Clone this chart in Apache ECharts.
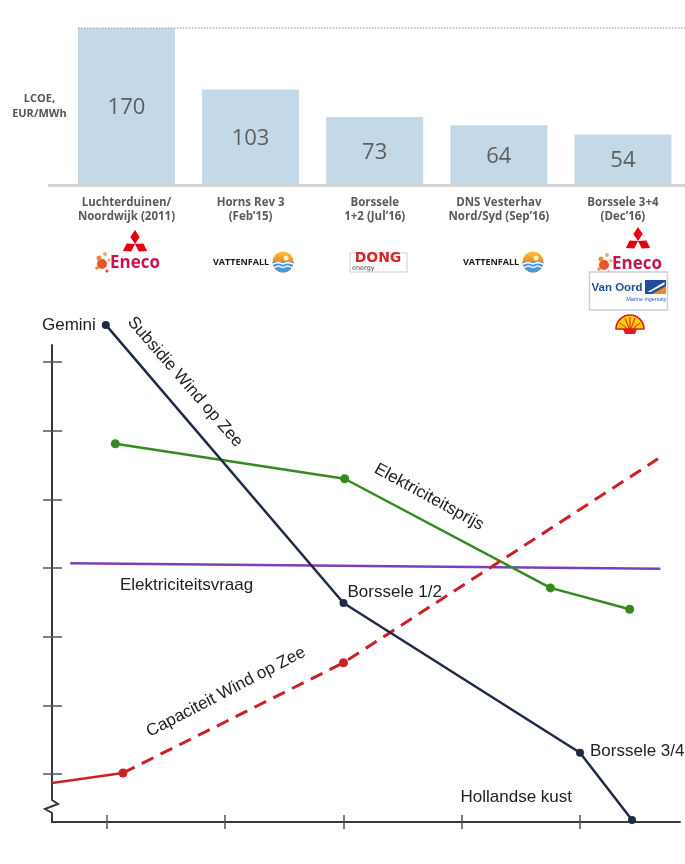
<!DOCTYPE html>
<html><head><meta charset="utf-8">
<script src="https://cdn.jsdelivr.net/npm/echarts@6/dist/echarts.min.js"></script>
<style>html,body{margin:0;padding:0;background:#fff}#c{width:685px;height:864px}</style>
</head><body><div id="c"></div>
<script>
// ---------- Top chart data ----------
const categories = ['Luchterduinen/\nNoordwijk (2011)', 'Horns Rev 3\n(Feb\u201915)', 'Borssele\n1+2 (Jul\u201916)', 'DNS Vesterhav\nNord/Syd (Sep\u201916)', 'Borssele 3+4\n(Dec\u201916)'];
const lcoe = [170, 103, 73, 64, 54];

// ---------- Bottom chart data (axis units: x tick = 1..5, y tick = 1..7) ----------
const xTicks = [1, 2, 3, 4, 5];
const yTicks = [1, 2, 3, 4, 5, 6, 7];
const subsidieX = [0.99, 3.0, 5.0, 5.44];
const subsidieY = [7.54, 3.49, 1.31, 0.33];
const subsidieNames = ['Gemini', 'Borssele 1/2', 'Borssele 3/4', 'Hollandse kust'];
const prijsX = [1.07, 3.01, 4.75, 5.42];
const prijsY = [5.81, 5.30, 3.71, 3.40];
const vraagX = [0.69, 5.68];
const vraagY = [4.07, 3.99];
const capSolidX = [0.535, 1.135];
const capSolidY = [0.87, 1.015];
const capDashX = [1.135, 3.0, 5.66];
const capDashY = [1.015, 2.62, 5.59];

const NAVY = '#1f2a44', GREEN = '#348a1f', PURPLE = '#7b3fb8', RED = '#cc2026';
const FONT = '17px "Liberation Sans"';
const LBL = {fontFamily: 'Liberation Sans', fontSize: 17, color: '#222'};

const subsidieLabelCfg = [
  {position: 'left', distance: 6, offset: [0, 0]},
  {position: 'right', distance: 0, offset: [0, -11]},
  {position: 'right', distance: 6, offset: [0, -1]},
  {position: 'left', distance: 56, offset: [0, -23]}
];

const subsidieData = subsidieX.map((x, i) => ({
  value: [x, subsidieY[i]],
  label: Object.assign({show: true, formatter: subsidieNames[i]}, LBL, subsidieLabelCfg[i])
}));
const pair = (xs, ys) => xs.map((x, i) => [x, ys[i]]);
const capDashData = pair(capDashX, capDashY).map((v, i, arr) => i === arr.length - 1 ? {value: v, symbol: 'none'} : v);

// ---------- Logos (decoration) ----------
function mitsu(cx, cy, L) {
  const a = L / 1.5;
  const c = Math.cos(Math.PI / 6), s = Math.sin(Math.PI / 6);
  const dirs = [[0, -1], [-c, s], [c, s]];
  return dirs.map(d => {
    const n = [-d[1], d[0]];
    return {type: 'polygon', shape: {points: [
      [cx, cy],
      [cx + d[0] * L / 2 + n[0] * a / 2, cy + d[1] * L / 2 + n[1] * a / 2],
      [cx + d[0] * L, cy + d[1] * L],
      [cx + d[0] * L / 2 - n[0] * a / 2, cy + d[1] * L / 2 - n[1] * a / 2]
    ]}, style: {fill: '#e60012'}};
  });
}
function eneco(cx, cy) {
  const b = [[-33, 1, 5, '#e8532b'], [-30, -9, 2, '#f6a96a'], [-36, -5, 2.5, '#f08a2c'], [-26, -3, 1.8, '#f4b27a'], [-38, 5, 1.8, '#f28a3a'], [-28, 8, 1.6, '#e8443a']];
  const els = b.map(p => ({type: 'circle', shape: {cx: cx + p[0], cy: cy + p[1], r: p[2]}, style: {fill: p[3]}}));
  els.push({type: 'text', x: cx, y: cy, style: {text: 'Eneco', fontFamily: 'Open Sans', fontWeight: 'bold', fontSize: 17, fill: '#c4164c', align: 'center', verticalAlign: 'middle'}});
  return els;
}
function vattenfall(cx, cy) {
  const tx = cx - 12, ox = cx + 30;
  return [
    {type: 'text', x: tx, y: cy, style: {text: 'VATTENFALL', fontFamily: 'Open Sans', fontWeight: 'bold', fontSize: 9, fill: '#1a1a1a', align: 'center', verticalAlign: 'middle'}},
    {type: 'circle', shape: {cx: ox, cy: cy, r: 10.5}, style: {fill: new echarts.graphic.LinearGradient(0, 0, 0, 1, [{offset: 0, color: '#f8c43c'}, {offset: 0.5, color: '#f08c1e'}, {offset: 1, color: '#f08c1e'}])}},
    {type: 'sector', shape: {cx: ox, cy: cy, r: 10.5, r0: 0, startAngle: 0, endAngle: Math.PI}, style: {fill: '#4a98d8'}},
    {type: 'polyline', shape: {points: [[ox - 10, cy + 2], [ox - 5, cy + 0.5], [ox, cy + 2], [ox + 5, cy + 0.5], [ox + 10, cy + 2]]}, style: {stroke: '#fff', lineWidth: 1.4, fill: null}},
    {type: 'polyline', shape: {points: [[ox - 9, cy + 5.5], [ox - 4.5, cy + 4], [ox, cy + 5.5], [ox + 4.5, cy + 4], [ox + 9, cy + 5.5]]}, style: {stroke: '#fff', lineWidth: 1.2, fill: null}},
    {type: 'circle', shape: {cx: ox + 3, cy: cy - 4, r: 2.5}, style: {fill: '#fff3c8'}}
  ];
}
function dong(cx, cy) {
  return [
    {type: 'rect', shape: {x: cx - 28, y: cy - 9.5, width: 57, height: 19}, style: {fill: '#fff', stroke: '#cfcfcf', lineWidth: 1}},
    {type: 'text', x: cx, y: cy - 4, style: {text: 'DONG', fontFamily: 'DejaVu Sans', fontWeight: 'bold', fontSize: 14, fill: '#d8232a', align: 'center', verticalAlign: 'middle'}},
    {type: 'text', x: cx - 26, y: cy + 5.5, style: {text: 'energy', fontFamily: 'DejaVu Sans', fontSize: 6.5, fill: '#444', align: 'left', verticalAlign: 'middle'}}
  ];
}
function vanOord(x0, y0) {
  return [
    {type: 'rect', shape: {x: x0, y: y0, width: 78, height: 38}, style: {fill: '#fff', stroke: '#cfcfcf', lineWidth: 1.5}},
    {type: 'text', x: x0 + 2, y: y0 + 16, style: {text: 'Van Oord', fontFamily: 'Liberation Sans', fontWeight: 'bold', fontSize: 11.5, fill: '#1f4e9a', align: 'left', verticalAlign: 'middle'}},
    {type: 'rect', shape: {x: x0 + 55.5, y: y0 + 8, width: 21, height: 14}, style: {fill: '#1f4e9a'}},
    {type: 'polygon', shape: {points: [[x0 + 58, y0 + 20], [x0 + 75, y0 + 10], [x0 + 75, y0 + 12.5], [x0 + 61, y0 + 20]]}, style: {fill: '#fff'}},
    {type: 'polygon', shape: {points: [[x0 + 63, y0 + 22], [x0 + 76.5, y0 + 14], [x0 + 76.5, y0 + 22]]}, style: {fill: '#f08a1e'}},
    {type: 'text', x: x0 + 77, y: y0 + 27, style: {text: 'Marine ingenuity', fontFamily: 'Liberation Sans', fontSize: 5.5, fill: '#2a5aa8', align: 'right', verticalAlign: 'middle'}}
  ];
}
function shell(cx, cy) {
  const els = [
    {type: 'sector', shape: {cx: cx, cy: cy + 8, r: 14, r0: 0, startAngle: Math.PI, endAngle: Math.PI * 2}, style: {fill: '#fbce07', stroke: '#dd1d21', lineWidth: 1.6}},
    {type: 'polygon', shape: {points: [[cx - 7, cy + 8], [cx + 7, cy + 8], [cx + 5, cy + 13], [cx - 5, cy + 13]]}, style: {fill: '#dd1d21'}}
  ];
  [-2.6, -2.0, -1.57, -1.14, -0.54].forEach(a => {
    els.push({type: 'line', shape: {x1: cx, y1: cy + 10, x2: cx + Math.cos(a) * 12, y2: cy + 8 + Math.sin(a) * 12}, style: {stroke: '#dd1d21', lineWidth: 1}});
  });
  return els;
}

const graphics = [].concat(
  [{type: 'line', z: 0, shape: {x1: 48, y1: 185.5, x2: 685, y2: 185.5}, style: {stroke: '#d2d2d2', lineWidth: 3}}],
  mitsu(135, 244, 14), eneco(135, 263),
  vattenfall(253, 262),
  dong(378, 262.5),
  vattenfall(503, 262),
  mitsu(638, 241, 14), eneco(637, 264),
  vanOord(589.5, 272),
  shell(630, 321),
  // axis break (zigzag) on the lower y axis
  [{type: 'rect', z: 100, shape: {x: 44, y: 798, width: 16, height: 17}, style: {fill: '#fff'}},
   {type: 'polyline', z: 101, shape: {points: [[52, 797], [52, 800], [58, 804], [45, 809], [52, 813], [52, 816]]}, style: {stroke: '#3a3a3a', lineWidth: 2, fill: null}}],
  // series name annotations
  [{type: 'text', z: 50, x: 185, y: 382, rotation: -0.855, style: {text: 'Subsidie Wind op Zee', align: 'center', verticalAlign: 'middle', fill: '#222', font: FONT}},
   {type: 'text', z: 50, x: 429, y: 497, rotation: -0.5, style: {text: 'Elektriciteitsprijs', align: 'center', verticalAlign: 'middle', fill: '#222', font: FONT}},
   {type: 'text', z: 50, x: 226, y: 692, rotation: 0.48, style: {text: 'Capaciteit Wind op Zee', align: 'center', verticalAlign: 'middle', fill: '#222', font: FONT}},
   {type: 'text', z: 50, x: 120, y: 585, style: {text: 'Elektriciteitsvraag', align: 'left', verticalAlign: 'middle', fill: '#222', font: FONT}}]
);

const XMIN = 0.5349, XMAX = 5.8457, YMIN = 0.301, YMAX = 7.2476;
const axisLineStyle = {color: '#3a3a3a', width: 2};
const tickStyle = {color: '#555', width: 1.5};

const chart = echarts.init(document.getElementById('c'), null, {renderer: 'canvas'});
chart.setOption({
  animation: false,
  backgroundColor: '#fff',
  grid: [
    {left: 64.4, top: 28, width: 626, height: 156},
    {left: 52, top: 345, width: 628, height: 477}
  ],
  xAxis: [
    {type: 'category', gridIndex: 0, data: categories, axisLine: {show: false}, axisTick: {show: false},
     axisLabel: {interval: 0, margin: 12, fontFamily: 'Open Sans', fontWeight: 'bold', fontSize: 11.5, lineHeight: 14, color: '#5a5a5a'}},
    {type: 'value', gridIndex: 1, position: 'bottom', min: XMIN, max: XMAX, axisLine: {show: true, onZero: false, lineStyle: axisLineStyle},
     axisTick: {show: true, customValues: xTicks, length: 7, lineStyle: tickStyle}, axisLabel: {show: false}, splitLine: {show: false}},
    {type: 'value', gridIndex: 1, position: 'bottom', min: XMIN, max: XMAX, axisLine: {show: false, onZero: false},
     axisTick: {show: true, inside: true, customValues: xTicks, length: 7, lineStyle: tickStyle}, axisLabel: {show: false}, splitLine: {show: false}}
  ],
  yAxis: [
    {type: 'value', gridIndex: 0, min: 0, max: 170, axisLine: {show: false}, axisTick: {show: false}, axisLabel: {show: false}, splitLine: {show: false},
     name: 'LCOE,\nEUR/MWh', nameLocation: 'middle', nameRotate: 0, nameGap: 25,
     nameTextStyle: {align: 'center', fontFamily: 'Open Sans', fontWeight: 'bold', fontSize: 11, lineHeight: 15, color: '#555'}},
    {type: 'value', gridIndex: 1, position: 'left', min: YMIN, max: YMAX, axisLine: {show: true, onZero: false, lineStyle: axisLineStyle},
     axisTick: {show: true, customValues: yTicks, length: 9, lineStyle: tickStyle}, axisLabel: {show: false}, splitLine: {show: false}},
    {type: 'value', gridIndex: 1, position: 'left', min: YMIN, max: YMAX, axisLine: {show: false, onZero: false},
     axisTick: {show: true, inside: true, customValues: yTicks, length: 10, lineStyle: tickStyle}, axisLabel: {show: false}, splitLine: {show: false}}
  ],
  graphic: {elements: graphics},
  series: [
    {type: 'bar', xAxisIndex: 0, yAxisIndex: 0, data: lcoe, barWidth: 97, z: 3,
     itemStyle: {color: '#c4d9e7'},
     label: {show: true, position: 'inside', fontFamily: 'Open Sans', fontSize: 22, color: '#5e5e5e', offset: [0, 2]},
     markLine: {silent: true, symbol: ['none', 'none'], label: {show: false},
       lineStyle: {type: 'dotted', color: '#b8b8b8', width: 1.5},
       data: [[{x: 78, yAxis: 170}, {x: 685, yAxis: 170}]]}},
    {type: 'line', name: 'Elektriciteitsvraag', xAxisIndex: 1, yAxisIndex: 1, data: pair(vraagX, vraagY), showSymbol: false,
     lineStyle: {color: PURPLE, width: 2.5}, itemStyle: {color: PURPLE}, z: 3},
    {type: 'line', name: 'Elektriciteitsprijs', xAxisIndex: 1, yAxisIndex: 1, data: pair(prijsX, prijsY), symbol: 'circle', symbolSize: 9,
     lineStyle: {color: GREEN, width: 2.5}, itemStyle: {color: GREEN}, z: 4},
    {type: 'line', name: 'Capaciteit solid', xAxisIndex: 1, yAxisIndex: 1, data: pair(capSolidX, capSolidY), showSymbol: false,
     lineStyle: {color: RED, width: 2.5}, itemStyle: {color: RED}, z: 4},
    {type: 'line', name: 'Capaciteit Wind op Zee', xAxisIndex: 1, yAxisIndex: 1, data: capDashData, symbol: 'circle', symbolSize: 9,
     lineStyle: {color: RED, width: 3, type: [13, 8]}, itemStyle: {color: RED}, z: 5},
    {type: 'line', name: 'Subsidie Wind op Zee', xAxisIndex: 1, yAxisIndex: 1, data: subsidieData, symbol: 'circle', symbolSize: 8, clip: false,
     lineStyle: {color: NAVY, width: 2.5}, itemStyle: {color: NAVY}, z: 6}
  ]
});
</script>
</body></html>
